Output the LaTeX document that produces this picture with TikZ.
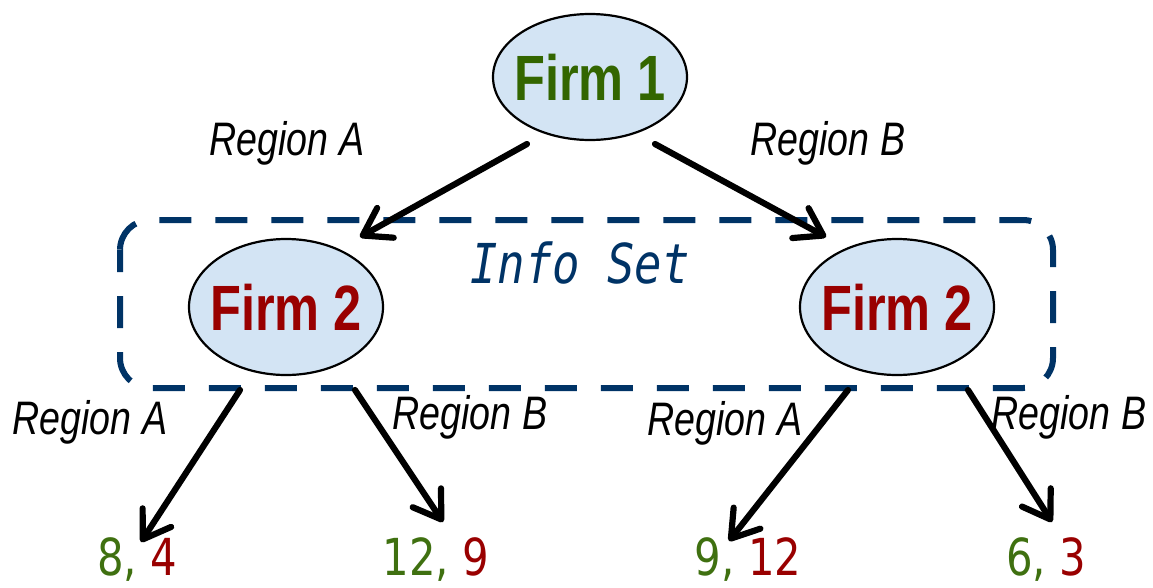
\documentclass[tikz,border=0pt]{standalone}
\usepackage{graphicx}
\usepackage{fontspec}
\setmainfont{Liberation Sans}
\newfontfamily\payofffont{DejaVu Sans}
\newfontfamily\infofont{DejaVu Sans Mono}
\usetikzlibrary{arrows.meta,shapes.geometric}
\definecolor{firmgreen}{HTML}{336600}
\definecolor{paygreen}{HTML}{3F7010}
\definecolor{firmred}{HTML}{990000}
\definecolor{setblue}{HTML}{003366}
\definecolor{nodefill}{HTML}{D3E4F4}
\newcommand\firmfontsel{\fontsize{64}{64}\selectfont\bfseries}
\newcommand\firmlabel[2]{\makebox[0pt]{\scalebox{0.79}[1]{\textcolor{#1}{\firmfontsel #2}}}}
\newcommand\payofflabel[2]{\scalebox{0.82}[1]{\textcolor{paygreen}{#1,} \textcolor{firmred}{#2}}}
\newcommand\movetext[1]{\scalebox{0.8}[1]{#1}}

\begin{document}
\begin{tikzpicture}[x=1pt,y=-1pt,
  firmnode/.style={ellipse, draw=black, line width=2.2pt, fill=nodefill,
    inner sep=0pt, minimum width=194pt},
  move/.style={line width=6.2pt, line cap=round,
    -{Straight Barb[length=26pt,width=34pt,round]}},
  movelabel/.style={inner sep=0pt, font=\fontsize{47}{47}\selectfont\itshape},
  payoff/.style={inner sep=0pt, font=\payofffont\fontsize{51}{51}\selectfont},
  infoset/.style={draw=setblue, line width=6pt, rounded corners=30pt,
    dash pattern=on 32pt off 24pt, dash phase=10pt}]
\useasboundingbox (0,0) rectangle (1153,587);

% information set of the second mover
\draw[infoset] (120,220) rectangle (1053,388);
\node[inner sep=0pt, text=setblue, font=\infofont\itshape\fontsize{55}{55}\selectfont]
  (info) at (580,263) {\scalebox{0.83}[1]{Info Set}};

% decision nodes
\node[firmnode, minimum height=126pt] (f1) at (590,77) {\firmlabel{firmgreen}{Firm 1}};
\node[firmnode, minimum height=136pt] (f2l) at (286,307) {\firmlabel{firmred}{Firm 2}};
\node[firmnode, minimum height=136pt] (f2r) at (897,307) {\firmlabel{firmred}{Firm 2}};

% terminal payoffs
\node[payoff] (p1) at (137,560) {\payofflabel{8}{4}};
\node[payoff] (p2) at (436,560) {\payofflabel{12}{9}};
\node[payoff] (p3) at (748,560) {\payofflabel{9}{12}};
\node[payoff] (p4) at (1046,560) {\payofflabel{6}{3}};

% branch end points
\coordinate (f1A) at (527,144);
\coordinate (f1B) at (655,144);
\coordinate (f2lin) at (360,237);
\coordinate (f2rin) at (826,237);
\coordinate (f2lA) at (240,390);
\coordinate (f2lB) at (355,390);
\coordinate (f2rA) at (848,390);
\coordinate (f2rB) at (968,390);
\coordinate (p1in) at (141,542);
\coordinate (p2in) at (443,522);
\coordinate (p3in) at (729,541);
\coordinate (p4in) at (1052,522);

% moves
\draw[move] (f1A) -- (f2lin);
\draw[move] (f1B) -- (f2rin);
\draw[move] (f2lA) -- (p1in);
\draw[move] (f2lB) -- (p2in);
\draw[move] (f2rA) -- (p3in);
\draw[move] (f2rB) -- (p4in);

% move labels
\node[movelabel] (lA1) at (287,143) {\movetext{Region A}};
\node[movelabel] (lB1) at (828,143) {\movetext{Region B}};
\node[movelabel] (lA2) at (90,422) {\movetext{Region A}};
\node[movelabel] (lB2) at (470,417) {\movetext{Region B}};
\node[movelabel] (lA3) at (725,423) {\movetext{Region A}};
\node[movelabel] (lB3) at (1069,417) {\movetext{Region B}};
\end{tikzpicture}
\end{document}
